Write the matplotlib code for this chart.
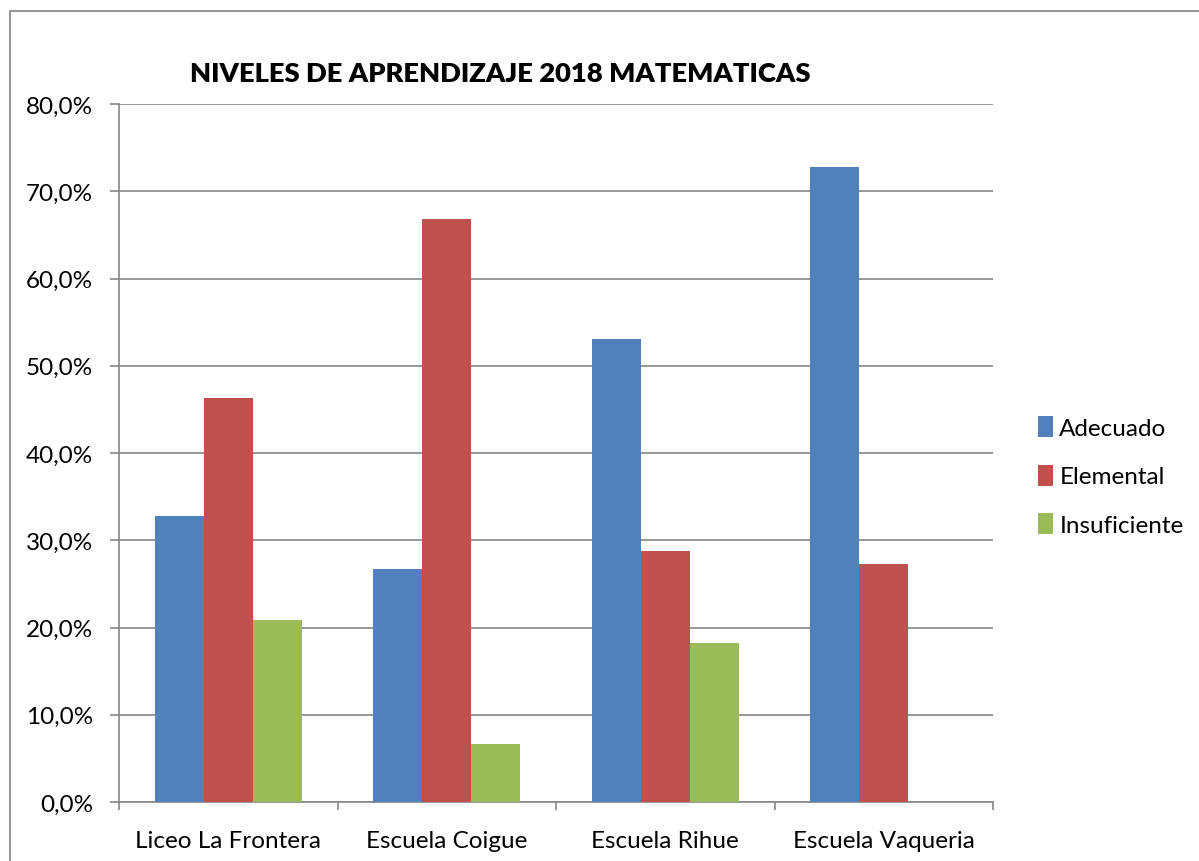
import matplotlib
matplotlib.use("Agg")
import matplotlib.pyplot as plt
from matplotlib.patches import Rectangle
from matplotlib.ticker import FuncFormatter, FixedLocator
import numpy as np

plt.rcParams['font.family'] = ['Lato', 'DejaVu Sans']

# data
escuelas = ['Liceo La Frontera', 'Escuela Coigue', 'Escuela Rihue', 'Escuela Vaqueria']
niveles = ['Adecuado', 'Elemental', 'Insuficiente']
adecuado = [32.8, 26.7, 53.1, 72.8]
elemental = [46.3, 66.8, 28.8, 27.3]
insuficiente = [20.9, 6.7, 18.2, 0.0]
colores = ['#4F81BD', '#C0504D', '#9BBB59']

W, H = 1199, 862
fig = plt.figure(figsize=(W / 100, H / 100), dpi=100)
ax = fig.add_axes([119 / W, 1 - 803 / H, (993 - 119) / W, (803 - 105) / H])

grid_col = '#868686'
fs = 17.5
x = np.arange(len(escuelas))
bw = 0.224
for i, (serie, nombre) in enumerate(zip([adecuado, elemental, insuficiente], niveles)):
    ax.bar(x + (i - 1) * bw, serie, width=bw, color=colores[i], label=nombre, zorder=3)

ax.set_xlim(-0.5, len(escuelas) - 0.5)
ax.set_ylim(0, 80)
ax.set_yticks(np.arange(0, 81, 10))
ax.yaxis.set_major_formatter(FuncFormatter(lambda v, p: f'{v:.1f}%'.replace('.', ',')))
ax.grid(axis='y', color=grid_col, linewidth=1.2, zorder=0)

ax.set_xticks(x)
ax.set_xticklabels(escuelas)
ax.xaxis.set_minor_locator(FixedLocator(np.arange(-0.5, len(escuelas), 1.0)))
ax.tick_params(axis='x', which='major', length=0, pad=20, labelsize=fs)
ax.tick_params(axis='x', which='minor', length=6, width=1.2, color=grid_col, direction='out')
ax.tick_params(axis='y', length=6.5, width=1.2, color=grid_col, direction='out', pad=12, labelsize=fs)

for s in ['top', 'right']:
    ax.spines[s].set_visible(False)
for s in ['left', 'bottom']:
    ax.spines[s].set_color(grid_col)
    ax.spines[s].set_linewidth(1.2)

fig.text(500 / W, 1 - 74 / H, 'NIVELES DE APRENDIZAJE 2018 MATEMATICAS',
         ha='center', va='center', fontsize=19.7, fontweight='heavy')

fig.legend(loc='center left', bbox_to_anchor=(1026 / W, 1 - 477 / H), frameon=False,
           fontsize=fs, handlelength=0.62, handleheight=0.95, handletextpad=0.25,
           labelspacing=1.05, borderpad=0)

# chart border, running off the right and bottom edges like the screenshot
fig.patches.append(Rectangle((10 / W, -0.05), 1.2, 1 - 12 / H + 0.05,
                             transform=fig.transFigure, fill=False,
                             edgecolor='#8c8c8c', linewidth=1.3))

fig.savefig('out.png', dpi=100)
